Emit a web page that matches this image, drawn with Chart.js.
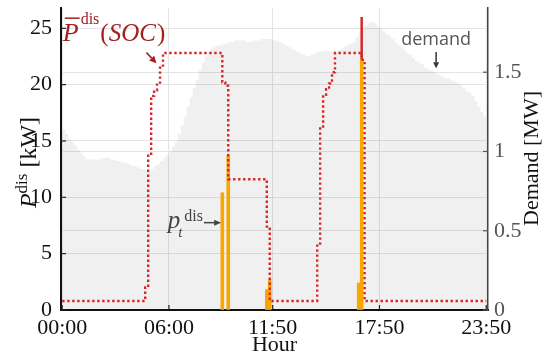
<!DOCTYPE html>
<html>
<head>
<meta charset="utf-8">
<script src="https://cdn.jsdelivr.net/npm/chart.js@4.4.1/dist/chart.umd.min.js"></script>
<style>
  html, body { margin: 0; padding: 0; background: #fff; }
  #wrap { width: 552px; height: 358px; }
</style>
</head>
<body>
<div id="wrap"><canvas id="grafico" width="552" height="358"></canvas></div>
<script>
const serif = "'Liberation Serif', 'Times New Roman', serif";

// eje x: minutos del dia
const tickMinutes = [0, 360, 710, 1070, 1430];
const tickLabels = ["00:00", "06:00", "11:50", "17:50", "23:50"];
const kwTicks = [0, 5, 10, 15, 20, 25];
const mwTicks = [0, 0.5, 1, 1.5];
const mwTickLabels = ["0", "0.5", "1", "1.5"];

// demanda cada 10 min [MW]
const demandMW = [
  1.14, 1.11, 1.08, 1.06, 1.04, 1.01, 0.99, 0.97, 0.95, 0.95,
  0.95, 0.95, 0.95, 0.96, 0.96, 0.96, 0.95, 0.95, 0.94, 0.94,
  0.93, 0.93, 0.92, 0.91, 0.91, 0.90, 0.89, 0.89, 0.88, 0.87,
  0.89, 0.91, 0.92, 0.94, 0.96, 0.98, 1.00, 1.03, 1.06, 1.11,
  1.16, 1.22, 1.28, 1.34, 1.40, 1.45, 1.51, 1.56, 1.60, 1.63,
  1.65, 1.66, 1.67, 1.67, 1.68, 1.68, 1.69, 1.69, 1.70, 1.70,
  1.70, 1.70, 1.69, 1.69, 1.70, 1.70, 1.70, 1.71, 1.71, 1.71,
  1.71, 1.70, 1.70, 1.69, 1.68, 1.67, 1.66, 1.65, 1.64, 1.63,
  1.62, 1.61, 1.60, 1.60, 1.61, 1.62, 1.63, 1.63, 1.63, 1.63,
  1.63, 1.63, 1.63, 1.64, 1.65, 1.66, 1.67, 1.68, 1.69, 1.72,
  1.75, 1.78, 1.80, 1.81, 1.82, 1.81, 1.79, 1.78, 1.76, 1.74,
  1.73, 1.71, 1.69, 1.67, 1.66, 1.64, 1.62, 1.61, 1.59, 1.57,
  1.56, 1.55, 1.53, 1.52, 1.51, 1.50, 1.49, 1.48, 1.47, 1.46,
  1.46, 1.45, 1.44, 1.43, 1.42, 1.40, 1.38, 1.37, 1.35, 1.32,
  1.28, 1.25, 1.22, 1.19
];

// limite de descarga segun SOC cada 10 min [kW]
const pdisMaxKW = [
  0.8, 0.8, 0.8, 0.8, 0.8, 0.8, 0.8, 0.8, 0.8, 0.8,
  0.8, 0.8, 0.8, 0.8, 0.8, 0.8, 0.8, 0.8, 0.8, 0.8,
  0.8, 0.8, 0.8, 0.8, 0.8, 0.8, 0.8, 0.8, 2.0, 13.7,
  19.0, 19.5, 20.0, 21.5, 22.8, 22.8, 22.8, 22.8, 22.8, 22.8,
  22.8, 22.8, 22.8, 22.8, 22.8, 22.8, 22.8, 22.8, 22.8, 22.8,
  22.8, 22.8, 22.8, 22.8, 20.2, 19.9, 11.6, 11.6, 11.6, 11.6,
  11.6, 11.6, 11.6, 11.6, 11.6, 11.6, 11.6, 11.6, 11.6, 7.4,
  0.8, 0.8, 0.8, 0.8, 0.8, 0.8, 0.8, 0.8, 0.8, 0.8,
  0.8, 0.8, 0.8, 0.8, 0.8, 0.8, 5.9, 16.1, 19.1, 19.6,
  20.1, 21.1, 22.8, 22.8, 22.8, 22.8, 22.8, 22.8, 22.8, 22.8,
  22.8, 22.2, 0.8, 0.8, 0.8, 0.8, 0.8, 0.8, 0.8, 0.8,
  0.8, 0.8, 0.8, 0.8, 0.8, 0.8, 0.8, 0.8, 0.8, 0.8,
  0.8, 0.8, 0.8, 0.8, 0.8, 0.8, 0.8, 0.8, 0.8, 0.8,
  0.8, 0.8, 0.8, 0.8, 0.8, 0.8, 0.8, 0.8, 0.8, 0.8,
  0.8, 0.8, 0.8, 0.8
];

// descarga real p_t [kW]
const dischargeTimes = ["09:00", "09:20", "11:30", "11:40", "16:40", "16:50"];
const dischargeKW = [10.4, 13.7, 1.8, 2.7, 2.4, 22.2];

// pico del limite
const peakTime = "16:50";
const peakKW = [22.2, 26.0];

function toMinutes(hhmm) {
  const [h, m] = hhmm.split(":").map(Number);
  return h * 60 + m;
}
const minutes = demandMW.map((_, i) => i * 10);

const gridColor = "#e4e4e4";

// anotaciones en coordenadas de datos (min, kW)
const notes = {
  pbar: [2, 23.9],
  pbarArrow: [[284, 22.85], [318, 21.9]],
  demand: [1261, 23.5],
  demandArrow: [[1261, 22.9], [1261, 21.45]],
  pt: [356, 7.3],
  ptArrow: [[478, 7.75], [536, 7.75]]
};

function arrow(ctx, x1, y1, x2, y2, color, lw, hl, hw) {
  const ang = Math.atan2(y2 - y1, x2 - x1);
  const bx = x2 - hl * Math.cos(ang), by = y2 - hl * Math.sin(ang);
  ctx.strokeStyle = color;
  ctx.fillStyle = color;
  ctx.lineWidth = lw;
  ctx.beginPath();
  ctx.moveTo(x1, y1);
  ctx.lineTo(bx, by);
  ctx.stroke();
  ctx.beginPath();
  ctx.moveTo(x2, y2);
  ctx.lineTo(bx + hw / 2 * Math.sin(ang), by - hw / 2 * Math.cos(ang));
  ctx.lineTo(bx - hw / 2 * Math.sin(ang), by + hw / 2 * Math.cos(ang));
  ctx.closePath();
  ctx.fill();
}

function text(ctx, s, font, x, y) {
  ctx.font = font;
  ctx.fillText(s, x, y);
  return x + ctx.measureText(s).width;
}

const extras = {
  id: "extras",
  afterDraw(chart) {
    const { ctx, chartArea: a, scales } = chart;
    const sx = v => scales.x.getPixelForValue(v);
    const sy = v => scales.y.getPixelForValue(v);
    ctx.save();

    // marcas hacia dentro
    ctx.lineWidth = 1.2;
    ctx.strokeStyle = "#222";
    scales.x.ticks.forEach(t => {
      const px = sx(t.value);
      ctx.beginPath(); ctx.moveTo(px, a.bottom); ctx.lineTo(px, a.bottom - 5); ctx.stroke();
    });
    scales.y.ticks.forEach(t => {
      const py = sy(t.value);
      ctx.beginPath(); ctx.moveTo(a.left, py); ctx.lineTo(a.left + 5, py); ctx.stroke();
    });
    ctx.strokeStyle = "#555";
    scales.y2.ticks.forEach(t => {
      const py = scales.y2.getPixelForValue(t.value);
      ctx.beginPath(); ctx.moveTo(a.right, py); ctx.lineTo(a.right - 5, py); ctx.stroke();
    });

    // titulos de ejes
    ctx.fillStyle = "#111";
    ctx.textBaseline = "alphabetic";
    ctx.textAlign = "center";
    ctx.font = "22px " + serif;
    ctx.fillText("Hour", (a.left + a.right) / 2, 351);

    ctx.textAlign = "left";
    ctx.save();
    ctx.translate(35.5, 162.5);
    ctx.rotate(-Math.PI / 2);
    const partsL = [
      ["P", "italic 24px " + serif, 0],
      ["dis", "17px " + serif, -9],
      [" [kW]", "24px " + serif, 0]
    ];
    let tot = 0;
    partsL.forEach(p => { ctx.font = p[1]; tot += ctx.measureText(p[0]).width; });
    let lx = -tot / 2;
    partsL.forEach(p => { lx = text(ctx, p[0], p[1], lx, p[2]); });
    ctx.restore();

    ctx.save();
    ctx.translate(538, 158.5);
    ctx.rotate(-Math.PI / 2);
    ctx.textAlign = "center";
    ctx.font = "22px " + serif;
    ctx.fillText("Demand [MW]", 0, 0);
    ctx.restore();

    // P^dis(SOC)
    const red = "#a3201f";
    ctx.fillStyle = red;
    let px = sx(notes.pbar[0]), py = sy(notes.pbar[1]);
    ctx.font = "italic 26px " + serif;
    const pw = ctx.measureText("P").width;
    let x = text(ctx, "P", "italic 26px " + serif, px, py);
    ctx.strokeStyle = red;
    ctx.lineWidth = 1.5;
    ctx.beginPath(); ctx.moveTo(px + 2, py - 22.5); ctx.lineTo(px + pw + 1, py - 22.5); ctx.stroke();
    x = text(ctx, "dis", "16px " + serif, x + 2, py - 17);
    x = text(ctx, "(", "25px " + serif, x + 1, py);
    x = text(ctx, "SOC", "italic 25px " + serif, x, py);
    text(ctx, ")", "25px " + serif, x + 1, py);
    const pa = notes.pbarArrow;
    arrow(ctx, sx(pa[0][0]), sy(pa[0][1]), sx(pa[1][0]), sy(pa[1][1]), red, 1.6, 7, 7);

    // demand
    ctx.fillStyle = "#555";
    ctx.textAlign = "center";
    ctx.font = "18px 'Open Sans', 'DejaVu Sans', sans-serif";
    ctx.fillText("demand", sx(notes.demand[0]), sy(notes.demand[1]));
    ctx.textAlign = "left";
    const da = notes.demandArrow;
    arrow(ctx, sx(da[0][0]), sy(da[0][1]), sx(da[1][0]), sy(da[1][1]), "#333", 1.5, 6, 6);

    // p_t^dis
    ctx.fillStyle = "#444";
    px = sx(notes.pt[0]); py = sy(notes.pt[1]);
    ctx.font = "italic 25px " + serif;
    const ppw = ctx.measureText("p").width;
    text(ctx, "p", "italic 25px " + serif, px, py);
    text(ctx, "t", "italic 15px " + serif, px + ppw - 2, py + 9);
    text(ctx, "dis", "16px " + serif, px + ppw + 4, py - 7);
    const ta = notes.ptArrow;
    arrow(ctx, sx(ta[0][0]), sy(ta[0][1]), sx(ta[1][0]), sy(ta[1][1]), "#444", 1.5, 7, 6);

    ctx.restore();
  }
};

new Chart(document.getElementById("grafico"), {
  data: {
    datasets: [
      {
        type: "line",
        label: "peak",
        data: peakKW.map(v => ({ x: toMinutes(peakTime), y: v })),
        borderColor: "#d62728",
        borderWidth: 2.5,
        pointRadius: 0,
        yAxisID: "y",
        order: 0
      },
      {
        type: "line",
        label: "Pdis max",
        data: minutes.map((m, i) => ({ x: m, y: pdisMaxKW[i] })),
        borderColor: "#d62728",
        borderWidth: 2.4,
        borderDash: [2.4, 2.6],
        borderCapStyle: "butt",
        stepped: true,
        pointRadius: 0,
        yAxisID: "y",
        order: 1
      },
      {
        type: "bar",
        label: "p dis",
        data: dischargeTimes.map((t, i) => ({ x: toMinutes(t), y: dischargeKW[i] })),
        backgroundColor: "#f9a602",
        borderWidth: 0,
        barPercentage: 1,
        categoryPercentage: 1,
        grouped: false,
        yAxisID: "y",
        order: 2
      },
      {
        type: "line",
        label: "demand",
        data: minutes.map((m, i) => ({ x: m, y: demandMW[i] })),
        backgroundColor: "rgba(0, 0, 0, 0.06)",
        borderWidth: 0,
        fill: "origin",
        stepped: true,
        pointRadius: 0,
        yAxisID: "y2",
        order: 3
      }
    ]
  },
  options: {
    responsive: false,
    animation: false,
    devicePixelRatio: 1,
    layout: { padding: { top: 8, left: 0, right: 0, bottom: 0 } },
    plugins: {
      legend: { display: false },
      tooltip: { enabled: false }
    },
    scales: {
      x: {
        type: "linear",
        min: -4,
        max: 1436,
        offset: false,
        afterBuildTicks: s => { s.ticks = tickMinutes.map(v => ({ value: v })); },
        afterFit: s => { s.height = 48; },
        grid: { color: gridColor, drawTicks: false, offset: false },
        border: { color: "#111", width: 2 },
        ticks: {
          font: { family: serif, size: 22 },
          color: "#111",
          padding: 5,
          maxRotation: 0,
          autoSkip: false,
          callback: (v, i) => tickLabels[i]
        }
      },
      y: {
        position: "left",
        min: 0,
        max: 26.8,
        afterBuildTicks: s => { s.ticks = kwTicks.map(v => ({ value: v })); },
        afterFit: s => { s.width = 61; s.paddingTop = 0; s.paddingBottom = 0; },
        grid: { color: gridColor, drawTicks: false },
        border: { color: "#111", width: 2 },
        ticks: {
          font: { family: serif, size: 22 },
          color: "#111",
          padding: 9,
          callback: v => String(v)
        }
      },
      y2: {
        position: "right",
        min: 0,
        max: 1.905,
        afterBuildTicks: s => { s.ticks = mwTicks.map(v => ({ value: v })); },
        afterFit: s => { s.width = 64; s.paddingTop = 0; s.paddingBottom = 0; },
        grid: { color: gridColor, drawTicks: false },
        border: { color: "#444", width: 1.5 },
        ticks: {
          font: { family: serif, size: 22 },
          color: "#555",
          padding: 6,
          callback: (v, i) => mwTickLabels[i]
        }
      }
    }
  },
  plugins: [extras]
});
</script>
</body>
</html>
